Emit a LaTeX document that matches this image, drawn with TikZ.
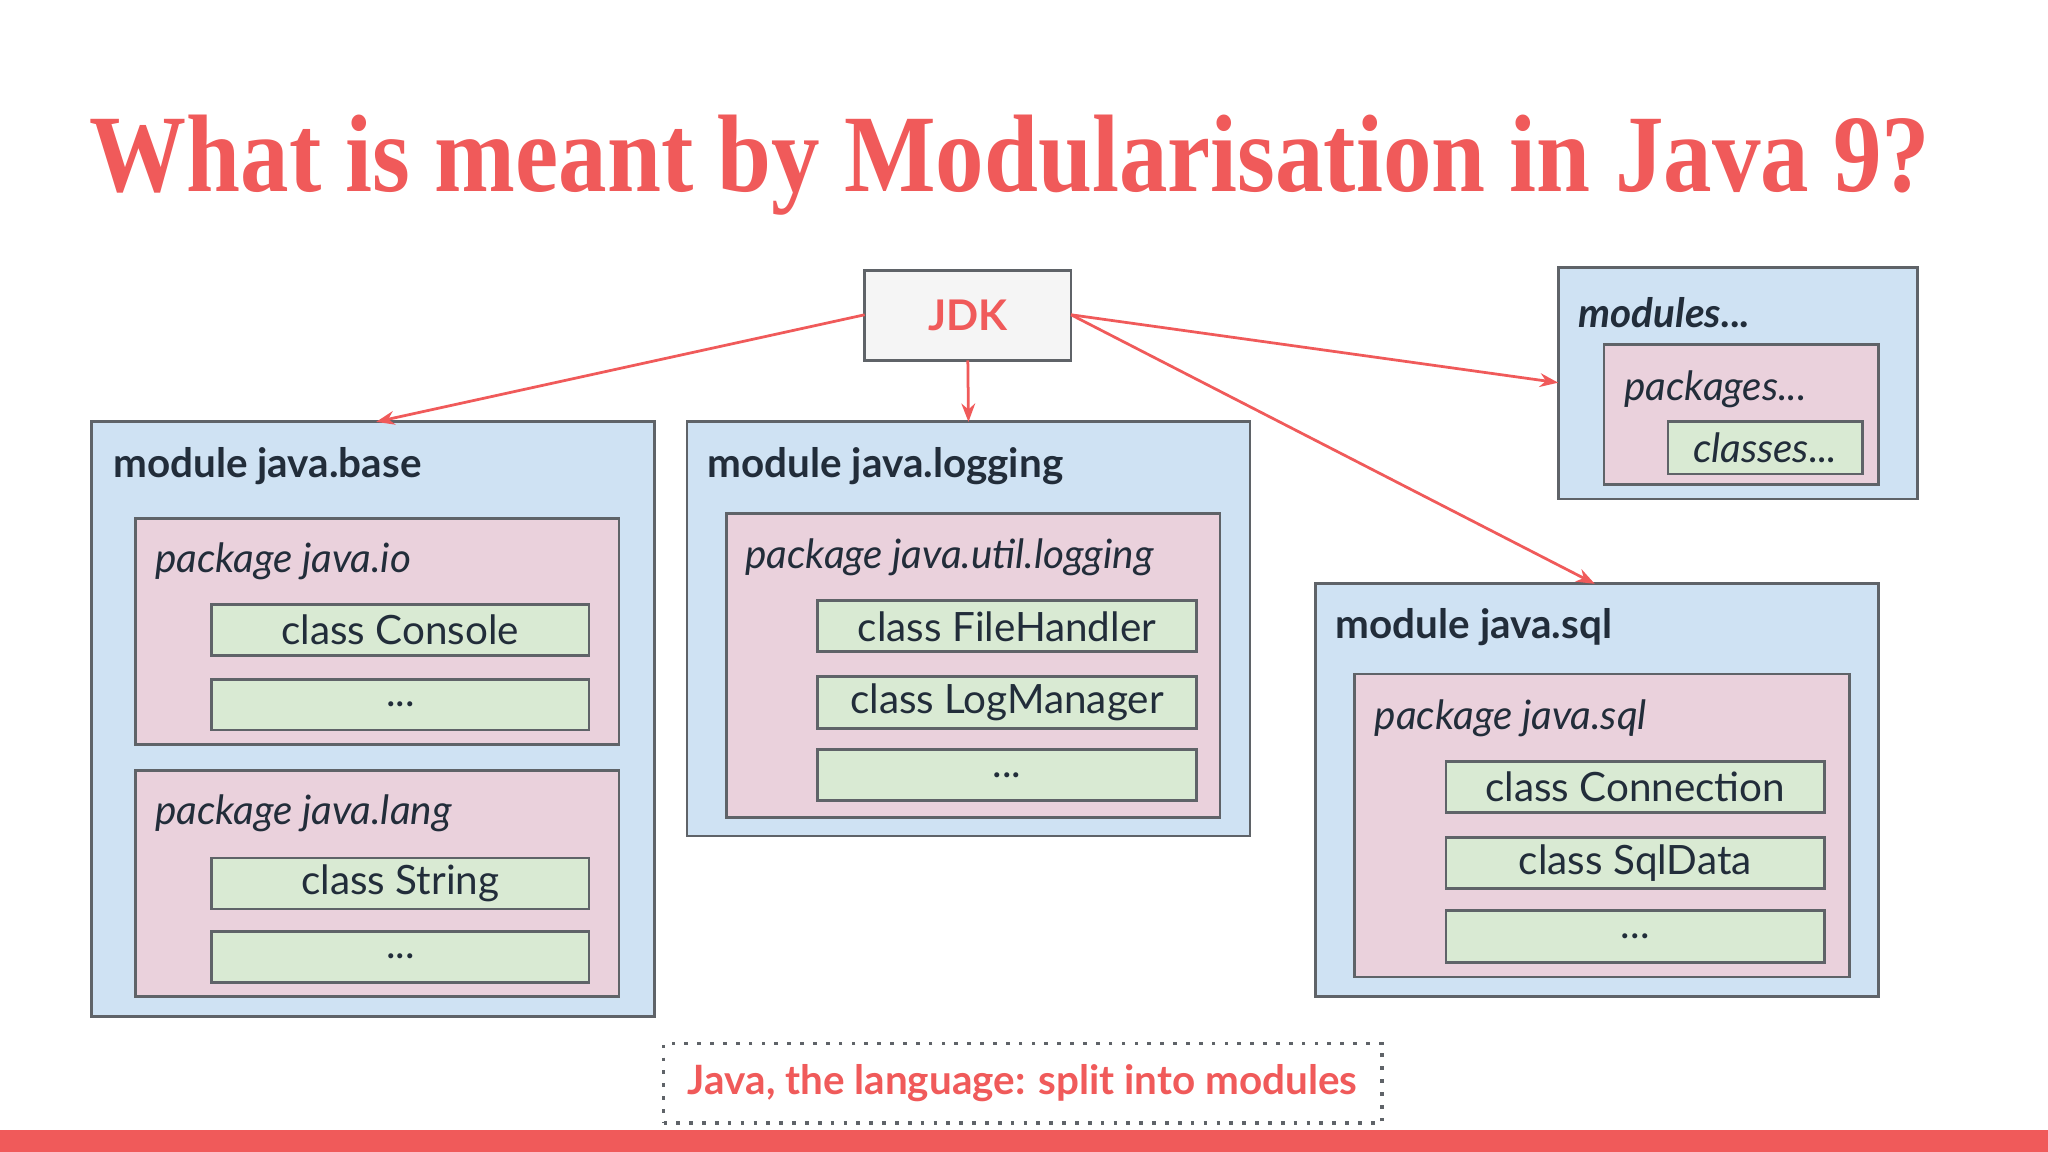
\documentclass[tikz,border=0pt]{standalone}
\usepackage{fontspec}
\usepackage{graphicx}
\setmainfont{Lato}
\newfontfamily\titlefont{Liberation Serif}
\usetikzlibrary{arrows.meta}
\definecolor{jred}{HTML}{F05A5A}
\definecolor{modfill}{HTML}{CFE2F3}
\definecolor{pkgfill}{HTML}{EAD1DC}
\definecolor{clsfill}{HTML}{D9EAD3}
\definecolor{bord}{HTML}{5F6368}
\definecolor{txt}{HTML}{222D3A}
\newcommand\bx[6]{\node[#6, inner sep=0pt, outer sep=0pt, minimum width={(#4-#2)*0.01cm}, minimum height={(#5-#3)*0.01cm}] (#1) at ({(#2+#4)/2},{(#3+#5)/2}) {};}
\tikzset{
  modbox/.style={draw=bord, fill=modfill, line width=0.6pt},
  pkgbox/.style={draw=bord, fill=pkgfill, line width=0.6pt},
  clsbox/.style={draw=bord, fill=clsfill, line width=0.6pt},
  modlbl/.style={anchor=west, font=\bfseries\fontsize{8.8}{10}\selectfont, text=txt, inner sep=0pt},
  pkglbl/.style={anchor=west, font=\itshape\fontsize{8.8}{10}\selectfont, text=txt, inner sep=0pt},
  clslbl/.style={font=\fontsize{8.8}{10}\selectfont, text=txt, inner sep=0pt},
  conn/.style={jred, line width=0.6pt, -{Stealth[length=4pt,width=3pt]}}
}
\begin{document}
\begin{tikzpicture}[x=0.01cm, y=-0.01cm]
\useasboundingbox (0,0) rectangle (1568,882);
\fill[white] (0,0) rectangle (1568,882);
\fill[jred] (0,865) rectangle (1568,882);
\node[anchor=base west, inner sep=0pt, text=jred, font=\titlefont\bfseries\fontsize{24}{28}\selectfont] (title) at (68,147) {\scalebox{0.88}[1]{What is meant by Modularisation in Java 9?}};
% JDK
\bx{jdk}{662}{207}{820}{276}{draw=bord, fill=gray!8, line width=0.6pt}
\node[text=jred, font=\bfseries\fontsize{9.2}{10}\selectfont] at (jdk) {JDK};
% java.base
\bx{mbase}{70}{323}{501}{778}{modbox}
\node[modlbl] at (86,357) {module java.base};
\bx{pio}{104}{397}{474}{570}{pkgbox}
\node[pkglbl] at (118,430) {package java.io};
\bx{cconsole}{162}{463}{451}{502}{clsbox}\node[clslbl] at (cconsole) {class Console};
\bx{cio}{162}{520}{451}{559}{clsbox}\node[clslbl] at (cio) {...};
\bx{plang}{104}{590}{474}{763}{pkgbox}
\node[pkglbl] at (118,623) {package java.lang};
\bx{cstring}{162}{657}{451}{696}{clsbox}\node[clslbl] at (cstring) {class String};
\bx{clang}{162}{713}{451}{752}{clsbox}\node[clslbl] at (clang) {...};
% java.logging
\bx{mlog}{526}{323}{957}{640}{modbox}
\node[modlbl] at (541,357) {module java.logging};
\bx{plog}{556}{393}{934}{626}{pkgbox}
\node[pkglbl] at (570,427) {package java.util.logging};
\bx{cfh}{626}{460}{916}{499}{clsbox}\node[clslbl] at (cfh) {class FileHandler};
\bx{clm}{626}{518}{916}{558}{clsbox}\node[clslbl] at (clm) {class LogManager};
\bx{clog}{626}{574}{916}{613}{clsbox}\node[clslbl] at (clog) {...};
% modules...
\bx{mmods}{1193}{205}{1468}{382}{modbox}
\node[modlbl, font=\bfseries\itshape\fontsize{8.8}{10}\selectfont] at (1208,239) {modules...};
\bx{ppk}{1228}{264}{1438}{371}{pkgbox}
\node[pkglbl] at (1243,298) {packages...};
\bx{ccl}{1277}{323}{1426}{363}{clsbox}\node[clslbl, font=\itshape\fontsize{8.8}{10}\selectfont] at (ccl) {classes...};
% java.sql
\bx{msql}{1007}{447}{1438}{763}{modbox}
\node[modlbl] at (1022,480) {module java.sql};
\bx{psql}{1037}{516}{1416}{748}{pkgbox}
\node[pkglbl] at (1052,550) {package java.sql};
\bx{ccon}{1107}{583}{1397}{622}{clsbox}\node[clslbl] at (ccon) {class Connection};
\bx{csd}{1107}{641}{1397}{680}{clsbox}\node[clslbl] at (csd) {class SqlData};
\bx{csql}{1107}{697}{1397}{737}{clsbox}\node[clslbl] at (csql) {...};
% connectors
\coordinate (jw) at (662,241);
\coordinate (je) at (820,241);
\draw[conn] (jw) -- (288,323);
\draw[conn] (jdk.south) -- (mlog.north);
\draw[conn] (je) -- (1193,293);
\draw[conn] (je) -- (1221,447);
% footer note
\bx{note}{508}{799}{1058}{860}{draw=bord, dotted, line width=0.8pt}
\node[text=jred, font=\bfseries\fontsize{8.8}{10}\selectfont] at (note) {Java, the language: split into modules};
\end{tikzpicture}
\end{document}
